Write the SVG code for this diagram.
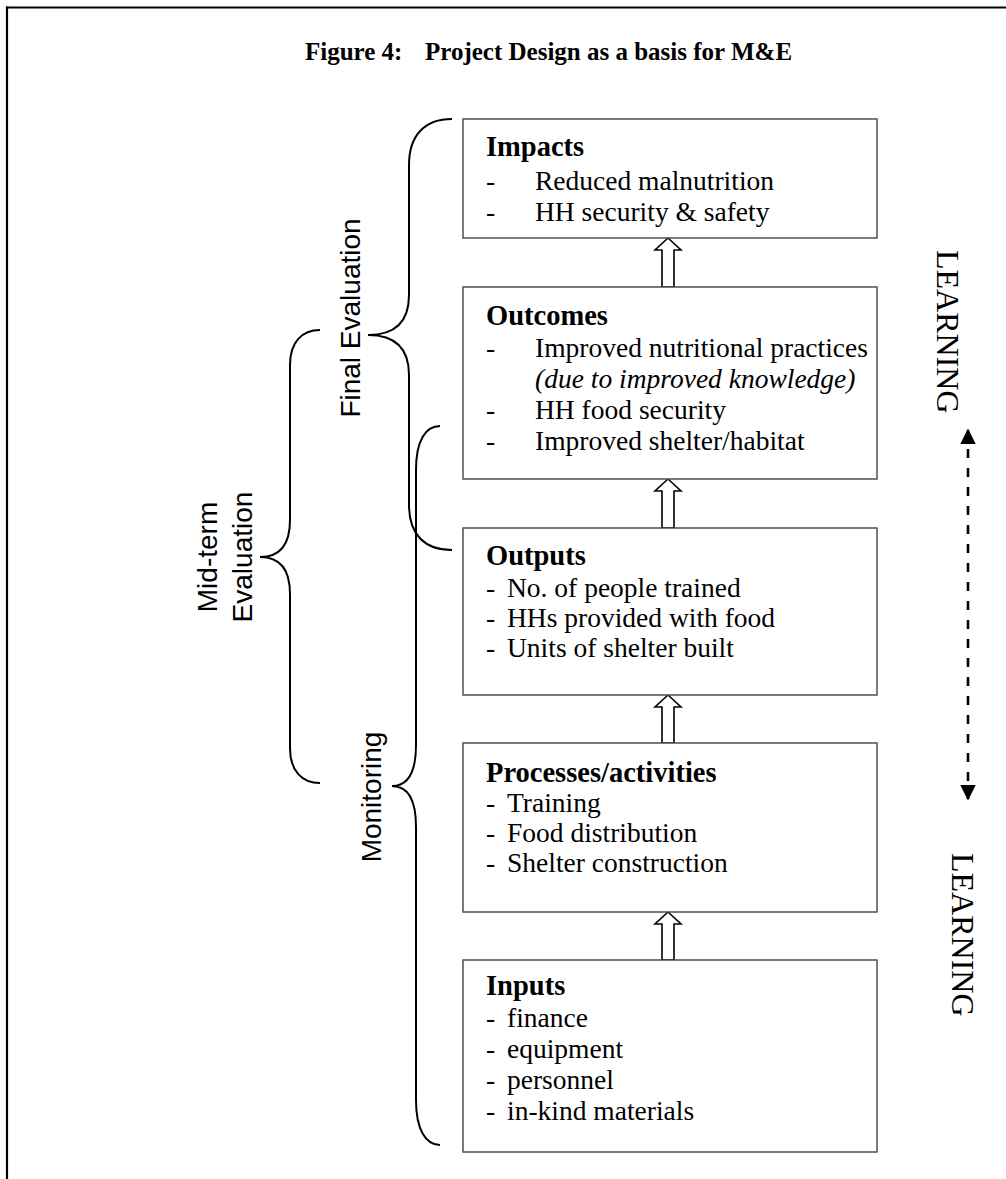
<svg xmlns="http://www.w3.org/2000/svg" width="1006" height="1179" viewBox="0 0 1006 1179">
<style>
.box{fill:#fff;stroke:#444;stroke-width:1.4}
.h{font-family:"Liberation Serif",serif;font-weight:bold;font-size:28.5px;fill:#000}
.t{font-family:"Liberation Serif",serif;font-size:27.5px;fill:#000}
.it{font-style:italic}
.lab{font-family:"Liberation Sans",sans-serif;font-size:28px;fill:#000}
.lrn{font-family:"Liberation Serif",serif;font-size:32px;fill:#000}
.brace{fill:none;stroke:#000;stroke-width:2}
.arr{fill:#fff;stroke:#000;stroke-width:1.6;stroke-linejoin:miter}
.dash{stroke:#000;stroke-width:2.6;stroke-dasharray:9 10;fill:none}
</style>
<defs>
<marker id="ah" viewBox="0 0 10 10" refX="9" refY="5" markerWidth="6" markerHeight="6" orient="auto-start-reverse" markerUnits="strokeWidth">
<path d="M0,0 L10,5 L0,10 Z" fill="#000"/>
</marker>
</defs>
<rect width="1006" height="1179" fill="#fff"/>
<g id="frame">
<line x1="6" y1="7.5" x2="1006" y2="7.5" stroke="#000" stroke-width="2.2"/>
<line x1="7" y1="6.5" x2="7" y2="1179" stroke="#000" stroke-width="2.2"/>
</g>
<text id="title" x="305" y="60" font-family="Liberation Serif, serif" font-weight="bold" font-size="25">Figure 4: <tspan x="425">Project Design as a basis for M&amp;E</tspan></text>

<g id="connectors">
<polygon class="arr" points="668,238 681,250 674,250 674,287 662,287 662,250 655,250"/>
<polygon class="arr" points="668,479 681,491 674,491 674,528 662,528 662,491 655,491"/>
<polygon class="arr" points="668,695 681,707 674,707 674,743 662,743 662,707 655,707"/>
<polygon class="arr" points="668,912 681,924 674,924 674,960 662,960 662,924 655,924"/>
<line class="dash" x1="968" y1="430" x2="968" y2="799" marker-start="url(#ah)" marker-end="url(#ah)"/>
</g>

<g id="impacts">
<rect class="box" x="463" y="119" width="414" height="119"/>
<text class="h" x="486" y="156">Impacts</text>
<text class="t" x="486" y="190">-</text><text class="t" x="535" y="190">Reduced malnutrition</text>
<text class="t" x="486" y="221">-</text><text class="t" x="535" y="221">HH security &amp; safety</text>
</g>

<g id="outcomes">
<rect class="box" x="463" y="287" width="414" height="192"/>
<text class="h" x="486" y="325">Outcomes</text>
<text class="t" x="486" y="357">-</text><text class="t" x="535" y="357">Improved nutritional practices</text>
<text class="t it" x="535" y="388">(due to improved knowledge)</text>
<text class="t" x="486" y="419">-</text><text class="t" x="535" y="419">HH food security</text>
<text class="t" x="486" y="450">-</text><text class="t" x="535" y="450">Improved shelter/habitat</text>
</g>

<g id="outputs">
<rect class="box" x="463" y="528" width="414" height="167"/>
<text class="h" x="486" y="565">Outputs</text>
<text class="t" x="486" y="597">-</text><text class="t" x="507" y="597">No. of people trained</text>
<text class="t" x="486" y="627">-</text><text class="t" x="507" y="627">HHs provided with food</text>
<text class="t" x="486" y="657">-</text><text class="t" x="507" y="657">Units of shelter built</text>
</g>

<g id="processes">
<rect class="box" x="463" y="743" width="414" height="169"/>
<text class="h" x="486" y="782">Processes/activities</text>
<text class="t" x="486" y="812">-</text><text class="t" x="507" y="812">Training</text>
<text class="t" x="486" y="842">-</text><text class="t" x="507" y="842">Food distribution</text>
<text class="t" x="486" y="872">-</text><text class="t" x="507" y="872">Shelter construction</text>
</g>

<g id="inputs">
<rect class="box" x="463" y="960" width="414" height="192"/>
<text class="h" x="486" y="995" font-size="32">Inputs</text>
<text class="t" x="486" y="1027">-</text><text class="t" x="507" y="1027">finance</text>
<text class="t" x="486" y="1058">-</text><text class="t" x="507" y="1058">equipment</text>
<text class="t" x="486" y="1089">-</text><text class="t" x="507" y="1089">personnel</text>
<text class="t" x="486" y="1120">-</text><text class="t" x="507" y="1120">in-kind materials</text>
</g>

<g id="final-evaluation">
<path class="brace" d="M452,119 C425,119 409,135 409,165 L409,295 C409,322 395,335 368,335 C395,335 409,348 409,375 L409,505 C409,535 425,550 452,550"/>
<text class="lab" text-anchor="middle" transform="translate(360,318) rotate(-90)">Final Evaluation</text>
</g>

<g id="mid-term-evaluation">
<path class="brace" d="M320,330 C302,330 290,342 290,365 L290,520 C290,545 280,557 260,557 C280,557 290,569 290,594 L290,748 C290,771 302,783 320,783"/>
<text class="lab" text-anchor="middle" transform="translate(217,557) rotate(-90)">Mid-term</text>
<text class="lab" text-anchor="middle" transform="translate(252,557) rotate(-90)">Evaluation</text>
</g>

<g id="monitoring">
<path class="brace" d="M440,426 C426,426 416,440 416,470 L416,745 C416,772 408,786 392,786 C408,786 416,800 416,827 L416,1100 C416,1130 426,1145 440,1145"/>
<text class="lab" text-anchor="middle" transform="translate(381,797) rotate(-90)">Monitoring</text>
</g>

<g id="learning-top">
<text class="lrn" transform="translate(937,250) rotate(90)">LEARNING</text>
</g>
<g id="learning-bottom">
<text class="lrn" transform="translate(952,853) rotate(90)">LEARNING</text>
</g>
</svg>
